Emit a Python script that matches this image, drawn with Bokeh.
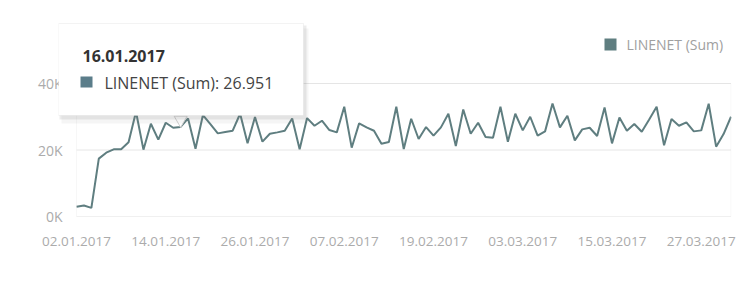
import pandas as pd
from bokeh.plotting import figure
from bokeh.models import BoxAnnotation, Label, FixedTicker, Range1d
from bokeh.embed import file_html
from bokeh.resources import INLINE

# ---------------- data ----------------
series_name = "LINENET (Sum)"
start_date = "2017-01-02"
values = [
    2900, 3300, 2600, 17400, 19200, 20200, 20200, 22300, 31500, 20100,
    27900, 23100, 28200, 26700, 26951, 29500, 20400, 30500, 27800, 25000,
    25400, 25800, 30900, 22000, 29900, 22500, 24900, 25300, 25800, 29500,
    20200, 29600, 27300, 28800, 26000, 25300, 33000, 20700, 28000, 26800,
    25800, 21900, 22400, 33000, 20300, 29400, 23300, 26900, 24300, 26800,
    30900, 21200, 32200, 24900, 28200, 23900, 23700, 33000, 22500, 30900,
    25900, 30000, 24300, 25600, 34000, 26800, 30300, 22900, 26200, 26700,
    24200, 32800, 22000, 29800, 25800, 27800, 25500, 29200, 33000, 21400,
    29300, 27300, 28300, 25600, 25900, 33900, 21000, 24800, 30000,
]
dates = pd.date_range(start_date, periods=len(values))
day_index = list(range(len(values)))

x_tick_positions = [0, 12, 24, 36, 48, 60, 72, 84]
x_tick_labels = ["02.01.2017", "14.01.2017", "26.01.2017", "07.02.2017",
                 "19.02.2017", "03.03.2017", "15.03.2017", "27.03.2017"]
y_ticks = [0, 20000, 40000]
y_tick_labels = ["0K", "20K", "40K"]
tooltip_index = 14

LINE_COLOR = "#5f7e80"
FONT = "Open Sans"

# ---------------- layout (pixels) ----------------
W, H = 743, 281
FRAME_L, FRAME_R, FRAME_T, FRAME_B = 58, 731, 0, 216
DATA_X0, DATA_X1 = 76, 730.5          # pixel of first / last day
Y40_PX = 83                            # pixel of the top grid line

px_per_day = (DATA_X1 - DATA_X0) / (day_index[-1] - day_index[0])
x_start = day_index[0] - (DATA_X0 - FRAME_L) / px_per_day
x_end = day_index[-1] + (FRAME_R - DATA_X1) / px_per_day
y_end = y_ticks[-1] * (FRAME_B - FRAME_T) / (FRAME_B - Y40_PX)
units_per_px = y_end / (FRAME_B - FRAME_T)

p = figure(width=W, height=H, output_backend="svg", toolbar_location=None,
           title=None,
           x_range=Range1d(x_start, x_end), y_range=Range1d(0, y_end),
           min_border_left=FRAME_L, min_border_right=W - FRAME_R,
           min_border_top=FRAME_T, min_border_bottom=H - FRAME_B)
p.background_fill_color = "white"
p.border_fill_color = "white"
p.outline_line_color = None
p.xgrid.grid_line_color = None
p.ygrid.grid_line_color = None

# plot-area grid and border
p.segment(x0=day_index[0], x1=day_index[-1], y0=y_ticks, y1=y_ticks,
          line_color="#e6e6e6", line_width=1)
p.add_layout(BoxAnnotation(left=day_index[0], right=day_index[-1],
                           bottom=y_ticks[0], top=y_ticks[-1],
                           fill_alpha=0, line_color="#e4e4e4", line_width=1))

p.line(day_index, values, line_color=LINE_COLOR, line_width=2)

# tooltip pointer (half hidden under the tooltip box)
p.scatter(x=[day_index[tooltip_index]],
          y=[values[tooltip_index] + 7 * units_per_px],
          marker="inverted_triangle", size=13, fill_color="white",
          line_color="#cfcfcf", line_width=1)

# axes
p.xaxis.ticker = FixedTicker(ticks=x_tick_positions)
p.xaxis.major_label_overrides = dict(zip(x_tick_positions, x_tick_labels))
p.yaxis.ticker = FixedTicker(ticks=y_ticks)
p.yaxis.major_label_overrides = dict(zip(y_ticks, y_tick_labels))
for ax in (p.xaxis, p.yaxis):
    ax.axis_line_color = None
    ax.major_tick_line_color = None
    ax.minor_tick_line_color = None
    ax.major_label_text_font = FONT
    ax.major_label_text_color = "#ababab"
    ax.major_label_text_font_size = "14px"
p.xaxis.major_label_text_font_size = "13.5px"
p.xaxis.major_label_standoff = 14
p.yaxis.major_label_standoff = -10

# ---------------- legend (top right) ----------------
def canvas_box(l, r, t, b, **kw):
    return BoxAnnotation(left=l, right=r, top=t, bottom=b,
                         left_units="canvas", right_units="canvas",
                         top_units="canvas", bottom_units="canvas", **kw)

p.add_layout(canvas_box(604, 616, 38, 50, fill_color=LINE_COLOR,
                        fill_alpha=1, line_color=None))
p.add_layout(Label(x=568, y=172, x_units="screen", y_units="screen",
                   text=series_name, text_font=FONT, text_font_size="14px",
                   text_color="#a0a0a0", text_baseline="middle"))

# ---------------- tooltip ----------------
for (l, r, t, b, a) in [(61, 308, 28, 123, 0.07), (59, 306, 25, 119, 0.13)]:
    p.add_layout(canvas_box(l, r, t, b, fill_color="#707070",
                            fill_alpha=a, line_color=None))
p.add_layout(canvas_box(58, 303, 23, 115, fill_color="white", fill_alpha=1,
                        line_color="#d6d6d6", line_width=1))
p.add_layout(canvas_box(80, 92, 76, 87, fill_color="#5b7d8a", fill_alpha=1,
                        line_color=None))

tip_date = dates[tooltip_index].strftime("%d.%m.%Y")
tip_value = f"{values[tooltip_index]:,}".replace(",", ".")
p.add_layout(Label(x=24, y=161, x_units="screen", y_units="screen",
                   text=tip_date, text_font=FONT, text_font_size="16px",
                   text_font_style="bold", text_color="#333333",
                   text_baseline="middle"))
p.add_layout(Label(x=46, y=134, x_units="screen", y_units="screen",
                   text=f"{series_name}: {tip_value}", text_font=FONT,
                   text_font_size="16px", text_color="#444444",
                   text_baseline="middle"))

open("out.html", "w").write(file_html(p, INLINE))
